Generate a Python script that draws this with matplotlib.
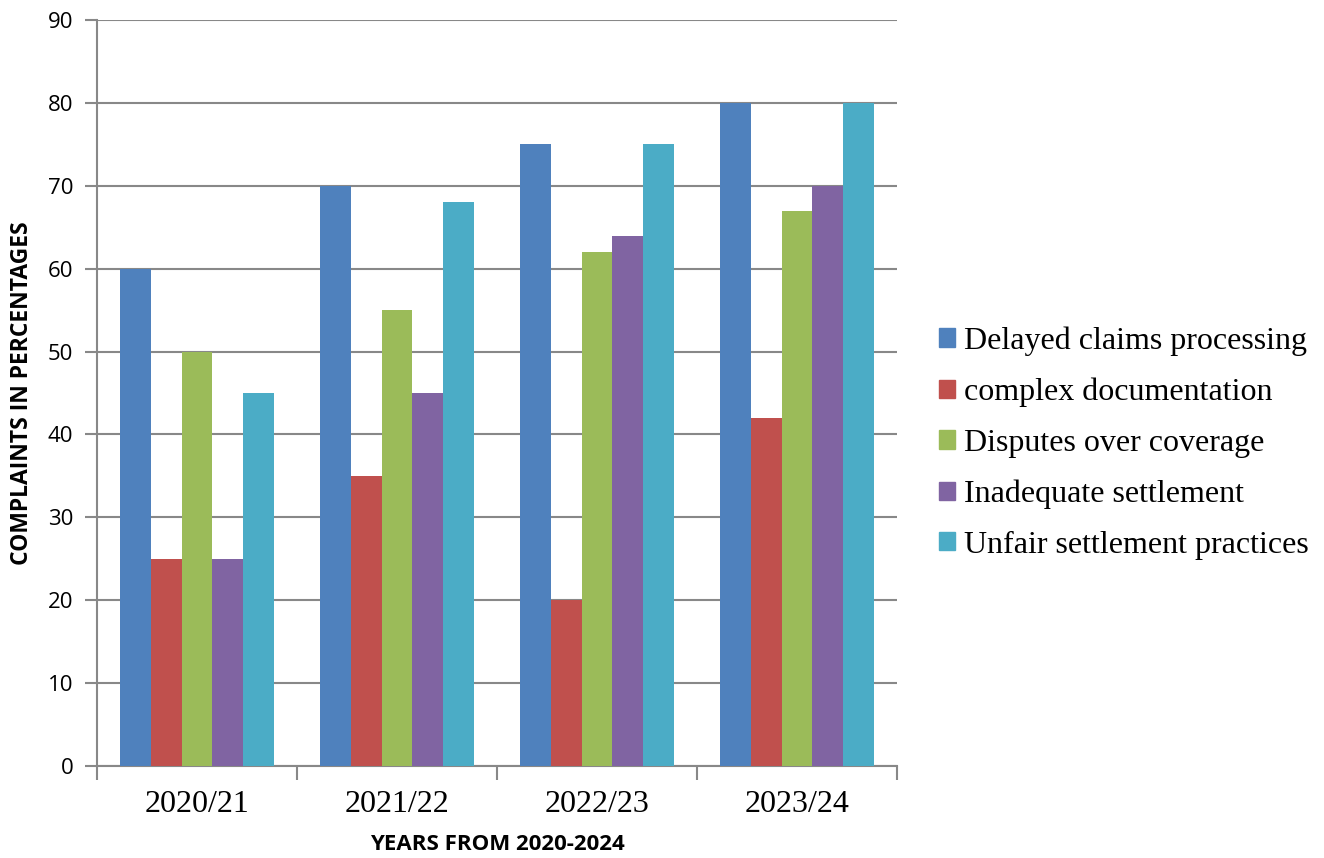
import numpy as np
import matplotlib.pyplot as plt
from matplotlib.patches import Patch

years = ["2020/21", "2021/22", "2022/23", "2023/24"]
series = ["Delayed claims processing", "complex documentation", "Disputes over coverage",
          "Inadequate settlement", "Unfair settlement practices"]
delayed = [60, 70, 75, 80]
complex_doc = [25, 35, 20, 42]
disputes = [50, 55, 62, 67]
inadequate = [25, 45, 64, 70]
unfair = [45, 68, 75, 80]
values = [delayed, complex_doc, disputes, inadequate, unfair]
colors = ["#4F81BD", "#C0504D", "#9BBB59", "#8064A2", "#4BACC6"]

fig = plt.figure(figsize=(13.24, 8.58), dpi=100)
ax = fig.add_axes([97 / 1324, 1 - 766 / 858, 800 / 1324, 746 / 858])

x = np.arange(len(years))
w = 0.154
for k, (vals, c) in enumerate(zip(values, colors)):
    ax.bar(x + (k - 2) * w, vals, w, color=c, zorder=3, edgecolor="none")

ax.set_xlim(-0.5, 3.5)
ax.set_ylim(0, 90)
ax.set_yticks(range(0, 91, 10))
ax.yaxis.grid(True, color="#888888", linewidth=1.5, zorder=0)
for s in ["top", "right"]:
    ax.spines[s].set_visible(False)
for s in ["left", "bottom"]:
    ax.spines[s].set_color("#888888")
    ax.spines[s].set_linewidth(1.5)

# tick marks sit between the groups, labels in the middle
ax.set_xticks(np.arange(-0.5, 4, 1))
ax.set_xticklabels([])
ax.set_xticks(x, minor=True)
ax.set_xticklabels(years, minor=True, fontfamily="Liberation Serif", fontsize=23)
ax.tick_params(axis="x", which="major", length=10, width=1.5, color="#888888", direction="out")
ax.tick_params(axis="x", which="minor", length=0, pad=17)
ax.tick_params(axis="y", length=9, width=1.5, color="#888888", labelsize=16, pad=8)
for lab in ax.get_yticklabels():
    lab.set_fontfamily("Open Sans")

ax.set_xlabel("YEARS FROM 2020-2024", fontfamily="Open Sans", fontweight="bold",
              fontsize=16, labelpad=11)
ax.set_ylabel("COMPLAINTS IN PERCENTAGES", fontfamily="Open Sans", fontweight="bold",
              fontsize=16.5, labelpad=10)

handles = [Patch(color=c, label=s) for c, s in zip(colors, series)]
fig.legend(handles=handles, loc="center left", bbox_to_anchor=(910 / 1324, 1 - 443 / 858),
           frameon=False, prop={"family": "Liberation Serif", "size": 23},
           handlelength=0.5, handleheight=0.5, handletextpad=0.3, labelspacing=0.68)

fig.savefig("out.png", dpi=100)
